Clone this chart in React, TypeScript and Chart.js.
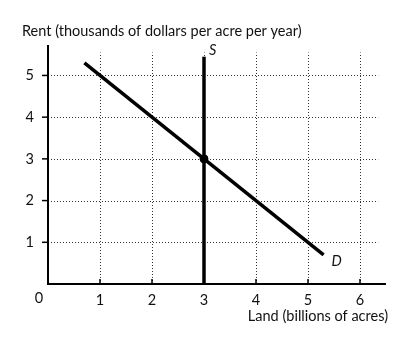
import React, { useEffect, useRef } from "react";
import { Chart, registerables } from "chart.js";

Chart.register(...registerables);

// Data
const demandX = [0.7, 5.3];
const demandY = [5.3, 0.7];
const supplyX = [3, 3];
const supplyY = [0, 5.45];
const eqX = [3];
const eqY = [3];
const xTicks = [1, 2, 3, 4, 5, 6];
const yTicks = [1, 2, 3, 4, 5];
const yTitle = "Rent (thousands of dollars per acre per year)";
const xTitle = "Land (billions of acres)";
const supplyLabel = "S";
const demandLabel = "D";

const X_MAX = 6.5;
const Y_MAX = 5.73;
const GRID_X_END = 6.35;
const GRID_Y_END = 5.55;
const FONT = "Lato, 'Open Sans', sans-serif";
const TEXT = "#111";

const econPlugin = {
  id: "econ",
  beforeDatasetsDraw(chart: any) {
    const { ctx } = chart;
    const xs = chart.scales.x;
    const ys = chart.scales.y;
    const x0 = xs.getPixelForValue(0);
    const y0 = ys.getPixelForValue(0);
    ctx.save();
    // dotted grid
    ctx.strokeStyle = "#333";
    ctx.lineWidth = 1;
    ctx.setLineDash([1, 2]);
    for (const v of yTicks) {
      const py = Math.round(ys.getPixelForValue(v)) + 0.5;
      ctx.beginPath();
      ctx.moveTo(x0, py);
      ctx.lineTo(xs.getPixelForValue(GRID_X_END), py);
      ctx.stroke();
    }
    for (const v of xTicks) {
      const px = Math.round(xs.getPixelForValue(v)) + 0.5;
      ctx.beginPath();
      ctx.moveTo(px, y0);
      ctx.lineTo(px, ys.getPixelForValue(GRID_Y_END));
      ctx.stroke();
    }
    ctx.setLineDash([]);
    // tick marks
    ctx.strokeStyle = "#000";
    ctx.lineWidth = 1.5;
    for (const v of yTicks) {
      const py = ys.getPixelForValue(v);
      ctx.beginPath();
      ctx.moveTo(x0 - 6, py);
      ctx.lineTo(x0, py);
      ctx.stroke();
    }
    for (const v of xTicks) {
      const px = xs.getPixelForValue(v);
      ctx.beginPath();
      ctx.moveTo(px, y0);
      ctx.lineTo(px, y0 - 5);
      ctx.stroke();
    }
    // axes
    ctx.lineWidth = 2;
    ctx.beginPath();
    ctx.moveTo(x0, ys.getPixelForValue(Y_MAX));
    ctx.lineTo(x0, y0);
    ctx.lineTo(xs.getPixelForValue(X_MAX), y0);
    ctx.stroke();
    ctx.restore();
  },
  afterDatasetsDraw(chart: any) {
    const { ctx } = chart;
    const xs = chart.scales.x;
    const ys = chart.scales.y;
    ctx.save();
    ctx.fillStyle = TEXT;
    ctx.font = `14.5px ${FONT}`;
    ctx.textBaseline = "middle";
    ctx.textAlign = "left";
    ctx.fillText(yTitle, 22, 31);
    ctx.textAlign = "right";
    ctx.fillText(xTitle, 388, 316);
    ctx.textAlign = "center";
    ctx.fillText("0", xs.getPixelForValue(0) - 9, 298);
    ctx.font = `italic 14.5px ${FONT}`;
    ctx.textAlign = "left";
    ctx.fillText(supplyLabel, xs.getPixelForValue(supplyX[1]) + 5, ys.getPixelForValue(supplyY[1]) - 6);
    ctx.fillText(demandLabel, xs.getPixelForValue(demandX[1]) + 8, ys.getPixelForValue(demandY[1]) + 7);
    ctx.restore();
  },
};

export default function App() {
  const ref = useRef<HTMLCanvasElement>(null);
  useEffect(() => {
    document.body.style.margin = "0";
    const toPts = (xs: number[], ys: number[]) => xs.map((x, i) => ({ x, y: ys[i] }));
    const chart = new Chart(ref.current!, {
      type: "scatter",
      data: {
        datasets: [
          {
            data: toPts(supplyX, supplyY),
            showLine: true,
            borderColor: "#000",
            borderWidth: 3.5,
            pointRadius: 0,
          },
          {
            data: toPts(demandX, demandY),
            showLine: true,
            borderColor: "#000",
            borderWidth: 3.5,
            pointRadius: 0,
            borderCapStyle: "butt",
          },
          {
            data: toPts(eqX, eqY),
            showLine: false,
            backgroundColor: "#000",
            borderColor: "#000",
            pointRadius: 4,
          },
        ],
      } as any,
      options: {
        responsive: false,
        animation: false,
        layout: { padding: { top: 45, right: 25, left: 0, bottom: 0 } },
        plugins: { legend: { display: false }, tooltip: { enabled: false }, title: { display: false } },
        scales: {
          x: {
            type: "linear",
            min: 0,
            max: X_MAX,
            grid: { display: false, drawTicks: false },
            border: { display: false },
            afterBuildTicks: (s: any) => {
              s.ticks = xTicks.map((v) => ({ value: v }));
            },
            afterFit: (s: any) => {
              s.height = 61;
            },
            ticks: {
              padding: 8,
              color: TEXT,
              font: { family: FONT, size: 14.5 },
              maxRotation: 0,
              autoSkip: false,
            },
          },
          y: {
            type: "linear",
            min: 0,
            max: Y_MAX,
            grid: { display: false, drawTicks: false },
            border: { display: false },
            afterBuildTicks: (s: any) => {
              s.ticks = yTicks.map((v) => ({ value: v }));
            },
            afterFit: (s: any) => {
              s.width = 48;
            },
            ticks: {
              padding: 14,
              color: TEXT,
              font: { family: FONT, size: 14.5 },
              autoSkip: false,
            },
          },
        },
      } as any,
      plugins: [econPlugin],
    });
    return () => chart.destroy();
  }, []);
  return (
    <div style={{ width: 411, height: 345 }}>
      <canvas ref={ref} width={411} height={345} />
    </div>
  );
}
